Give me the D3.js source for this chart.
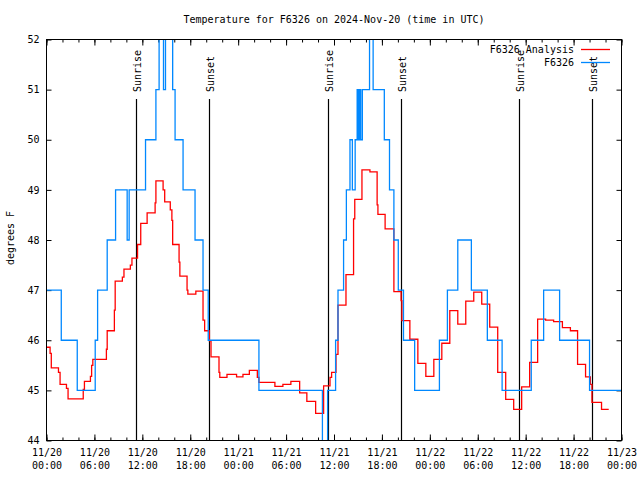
<!DOCTYPE html>
<html><head><meta charset="utf-8">
<script src="https://cdn.jsdelivr.net/npm/d3@7"></script>
<style>
body{margin:0;background:#fff}
text{font-family:"DejaVu Sans Mono",monospace;font-size:10px;fill:#000}
</style>
</head><body>
<svg id="chart" width="640" height="480"></svg>
<script>
// ---------- data ----------
const titleText = "Temperature for F6326 on 2024-Nov-20 (time in UTC)";
const startUTC = Date.UTC(2024, 10, 20, 0, 0, 0);
const spanHours = 72;

// F6326 Analysis (red): hours since 11/20 00:00 UTC and temperature (F), step values
const analysisHours = [0,0.45,0.6,1.5,1.7,2.5,2.7,4.6,4.75,5.5,5.65,5.8,7.5,7.6,8.5,8.6,9.5,9.7,10.5,10.7,11.4,11.8,12.6,13.6,13.7,14.6,14.8,15.5,15.7,15.8,16.6,16.7,17.6,17.7,18.7,19.6,19.8,20.4,20.6,21.6,21.7,22.6,23.8,24.6,25.4,26.4,26.6,28.6,29.6,30.6,31.7,32.6,33.7,34.7,35.5,35.7,36.25,36.5,37.5,38.45,38.6,39.5,40.5,41.4,41.5,42.4,43.5,44.4,44.5,45.5,46.5,47.5,48.5,49.5,50.5,51.5,52.5,53.5,54.5,55.5,56.5,57.5,58.5,59.5,60.5,61.5,62.5,63.5,64.6,65.6,66.5,67.5,68.1,68.3,69.5,70.4];
const analysisTemps = [45.86,45.74,45.45,45.36,45.12,45.04,44.83,45.02,45.18,45.28,45.5,45.62,45.82,46.19,46.6,47.18,47.26,47.42,47.5,47.64,47.91,48.33,48.54,48.74,49.18,49.0,48.76,48.6,48.39,47.91,47.56,47.28,47.0,46.92,46.98,46.4,46.19,45.99,45.67,45.36,45.26,45.32,45.27,45.32,45.4,45.26,45.16,45.08,45.12,45.18,44.95,44.78,44.54,45.09,45.26,45.36,45.72,46.7,47.31,48.42,48.81,49.4,49.36,48.7,48.51,48.22,46.97,46.79,46.39,46.02,45.54,45.28,45.62,45.94,46.59,46.32,46.78,46.96,46.72,46.26,45.36,44.82,44.62,45.07,45.56,46.42,46.4,46.37,46.25,46.19,45.52,45.27,45.12,44.76,44.62,44.62];

// F6326 observations (blue): step values
const obsHours = [0,1.85,3.85,6.1,6.4,7.6,8.65,10.1,10.35,12.4,13.7,14.1,14.65,14.9,15.8,16.1,17.1,18.6,19.6,20.25,26.6,34.55,35.2,36.2,36.5,37.2,37.55,38.0,38.3,38.65,38.9,39.05,39.2,39.35,39.55,40.45,40.9,42.3,42.95,43.5,44.05,44.7,46.1,49.2,50.2,51.5,53.2,55.2,57.05,60.7,62.25,64.25,68.0,72];
const obsTemps = [47,46,45,46,47,48,49,48,49,50,51,53,51,53,51,50,49,48,47,46,45,43,45,46,47,48,49,50,49,50,51,50,51,50,51,53,51,50,49,48,47,46,45,46,47,48,47,46,45,46,47,46,45,45];

const sunLabels = ["Sunrise","Sunset","Sunrise","Sunset","Sunrise","Sunset"];
const sunHours = [11.27,20.41,35.25,44.39,59.28,68.42];

const xTickHours = [0,6,12,18,24,30,36,42,48,54,60,66,72];
const xMinorHours = d3.range(0, 73, 2);
const yTickValues = [44,45,46,47,48,49,50,51,52];
const seriesNames = ["F6326 Analysis","F6326"];
const seriesColors = ["#ff0000","#0088ff"];
const yLabel = "degrees F";

// ---------- layout ----------
const L = 46.5, R = 621.5, T = 39.5, B = 440.5;
const svg = d3.select("#chart");
const hourToDate = h => new Date(startUTC + h*3600000);
const x = d3.scaleUtc().domain([hourToDate(0), hourToDate(spanHours)]).range([L, R]);
const y = d3.scaleLinear().domain([44, 52]).range([B, T]);

svg.append("defs").append("clipPath").attr("id","plotclip")
  .append("rect").attr("x",L).attr("y",T).attr("width",R-L).attr("height",B-T);

// title
svg.append("text").attr("x",(L+R)/2).attr("y",23).attr("text-anchor","middle").text(titleText);

// y label
svg.append("text").attr("transform","translate(14,238) rotate(-90)")
  .attr("text-anchor","middle").text(yLabel);

// axes
const fmtDay = d3.utcFormat("%m/%d"), fmtTime = d3.utcFormat("%H:%M");
const xAxisB = d3.axisBottom(x).tickValues(xTickHours.map(hourToDate))
  .tickSizeInner(-6).tickSizeOuter(0).tickPadding(10).tickFormat(d=>fmtDay(d));
const gB = svg.append("g").attr("transform",`translate(0,${B})`).call(xAxisB);
gB.selectAll(".tick text").each(function(d){
  const t = d3.select(this); t.text(null).attr("y",12).attr("dy",null);
  t.append("tspan").attr("x",0).attr("dy","0.35em").text(fmtDay(d));
  t.append("tspan").attr("x",0).attr("dy","13").text(fmtTime(d));
});
svg.append("g").attr("transform",`translate(0,${B})`)
  .call(d3.axisBottom(x).tickValues(xMinorHours.map(hourToDate)).tickSizeInner(-3).tickSizeOuter(0).tickFormat(""));
svg.append("g").attr("transform",`translate(0,${T})`)
  .call(d3.axisTop(x).tickValues(xTickHours.map(hourToDate)).tickSizeInner(-6).tickSizeOuter(0).tickFormat(""));
svg.append("g").attr("transform",`translate(0,${T})`)
  .call(d3.axisTop(x).tickValues(xMinorHours.map(hourToDate)).tickSizeInner(-3).tickSizeOuter(0).tickFormat(""));
svg.append("g").attr("transform",`translate(${L},0)`)
  .call(d3.axisLeft(y).tickValues(yTickValues).tickSizeInner(-5).tickSizeOuter(0).tickPadding(7).tickFormat(d3.format("d")));
svg.append("g").attr("transform",`translate(${R},0)`)
  .call(d3.axisRight(y).tickValues(yTickValues).tickSizeInner(-5).tickSizeOuter(0).tickFormat(""));
svg.selectAll(".domain").remove();
svg.selectAll(".tick line").attr("stroke","#000");
svg.selectAll(".tick text").attr("font-family",null).attr("font-size",null);

// sunrise / sunset
const sunG = svg.append("g");
sunHours.forEach((h,i)=>{
  const px = Math.round(x(hourToDate(h))-0.5)+0.5;
  sunG.append("line").attr("x1",px).attr("x2",px).attr("y1",99).attr("y2",B)
    .attr("stroke","#000").attr("stroke-width",1.2);
  sunG.append("text").attr("transform",`translate(${px+4.5},92) rotate(-90)`)
    .attr("text-anchor","start").text(sunLabels[i]);
});

// series
const line = d3.line().x(d=>x(hourToDate(d[0]))).y(d=>y(d[1])).curve(d3.curveStepAfter);
const plot = svg.append("g").attr("clip-path","url(#plotclip)");
const analysis = analysisHours.map((h,i)=>[h, analysisTemps[i]]);
const obs = obsHours.map((h,i)=>[h, obsTemps[i]]);
plot.append("path").datum(analysis).attr("d",line).attr("fill","none")
  .attr("stroke",seriesColors[0]).attr("stroke-width",1.3);
plot.append("path").datum(obs).attr("d",line).attr("fill","none")
  .attr("stroke",seriesColors[1]).attr("stroke-width",1.3);

// frame
svg.append("rect").attr("x",L).attr("y",T).attr("width",R-L).attr("height",B-T)
  .attr("fill","none").attr("stroke","#000").attr("stroke-width",1);

// legend
const legY = [49.5, 62.5];
seriesNames.forEach((n,i)=>{
  svg.append("text").attr("x",574).attr("y",legY[i]+3.5).attr("text-anchor","end").text(n);
  svg.append("line").attr("x1",581).attr("x2",610).attr("y1",legY[i]).attr("y2",legY[i])
    .attr("stroke",seriesColors[i]).attr("stroke-width",1.3);
});
</script>
</body></html>
